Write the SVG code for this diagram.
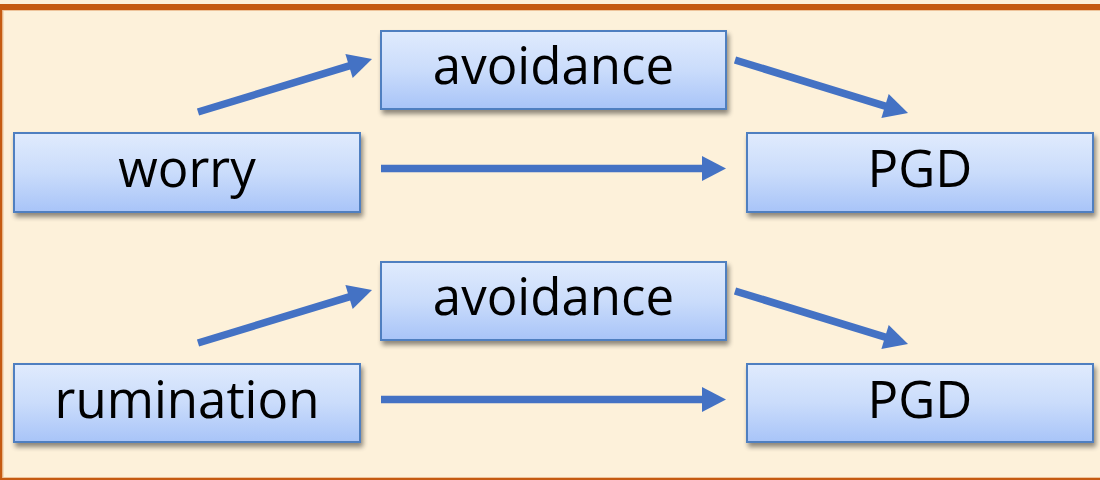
<svg xmlns="http://www.w3.org/2000/svg" width="1100" height="480" viewBox="0 0 1100 480">
  <style>
    .box { fill: url(#boxFill); stroke: #4f7fc0; stroke-width: 2; }
    .label { font-family: "Open Sans", "Liberation Sans", sans-serif; font-size: 51px; fill: #000; text-anchor: middle; }
    .conn { stroke: #4472c4; stroke-width: 7.5; fill: none; marker-end: url(#head); }
  </style>
  <defs>
    <linearGradient id="boxFill" x1="0" y1="0" x2="0" y2="1">
      <stop offset="0" stop-color="#e0ebfd"/>
      <stop offset="0.5" stop-color="#cadcfb"/>
      <stop offset="1" stop-color="#a8c4f8"/>
    </linearGradient>
    <filter id="shadow" x="-10%" y="-20%" width="120%" height="150%">
      <feGaussianBlur in="SourceAlpha" stdDeviation="2.5"/>
      <feOffset dx="2" dy="4" result="b"/>
      <feComponentTransfer><feFuncA type="linear" slope="0.45"/></feComponentTransfer>
      <feMerge><feMergeNode/><feMergeNode in="SourceGraphic"/></feMerge>
    </filter>
    <!-- head starts where the shaft ends -->
    <marker id="head" markerUnits="userSpaceOnUse" markerWidth="25" markerHeight="25" refX="1" refY="12.5" orient="auto" viewBox="0 0 25 25" overflow="visible">
      <path d="M0,0 L24,12.5 L0,25 z" fill="#4472c4"/>
    </marker>
  </defs>

  <!-- page background and frame -->
  <rect x="0" y="0" width="1100" height="480" fill="#fdf1da"/>
  <rect x="-0.5" y="7" width="1110" height="474" fill="none" stroke="#c55a11" stroke-width="6"/>
  <rect x="3" y="10.5" width="1110" height="467" fill="none" stroke="#eec39a" stroke-width="1"/>

  <!-- connectors -->
  <g id="connectors">
    <line class="conn" x1="198" y1="112" x2="350" y2="65.7"/>
    <line class="conn" x1="735" y1="60" x2="886" y2="106.3"/>
    <line class="conn" x1="381" y1="168.5" x2="703" y2="168.5"/>
    <line class="conn" x1="198" y1="343" x2="350" y2="296.7"/>
    <line class="conn" x1="735" y1="291" x2="886" y2="337.3"/>
    <line class="conn" x1="381" y1="399.5" x2="703" y2="399.5"/>
  </g>

  <!-- upper model: worry -->
  <g id="avoidance1" filter="url(#shadow)">
    <rect class="box" x="381" y="31" width="345" height="78"/>
    <text class="label" x="553.5" y="84">avoidance</text>
  </g>
  <g id="worry" filter="url(#shadow)">
    <rect class="box" x="14" y="133" width="346" height="79"/>
    <text class="label" x="187" y="187">worry</text>
  </g>
  <g id="pgd1" filter="url(#shadow)">
    <rect class="box" x="747" y="133" width="346" height="79"/>
    <text class="label" x="920" y="187">PGD</text>
  </g>

  <!-- lower model: rumination -->
  <g id="avoidance2" filter="url(#shadow)">
    <rect class="box" x="381" y="262" width="345" height="78"/>
    <text class="label" x="553.5" y="315">avoidance</text>
  </g>
  <g id="rumination" filter="url(#shadow)">
    <rect class="box" x="14" y="364" width="346" height="78"/>
    <text class="label" x="187" y="418">rumination</text>
  </g>
  <g id="pgd2" filter="url(#shadow)">
    <rect class="box" x="747" y="364" width="346" height="78"/>
    <text class="label" x="920" y="418">PGD</text>
  </g>
</svg>
